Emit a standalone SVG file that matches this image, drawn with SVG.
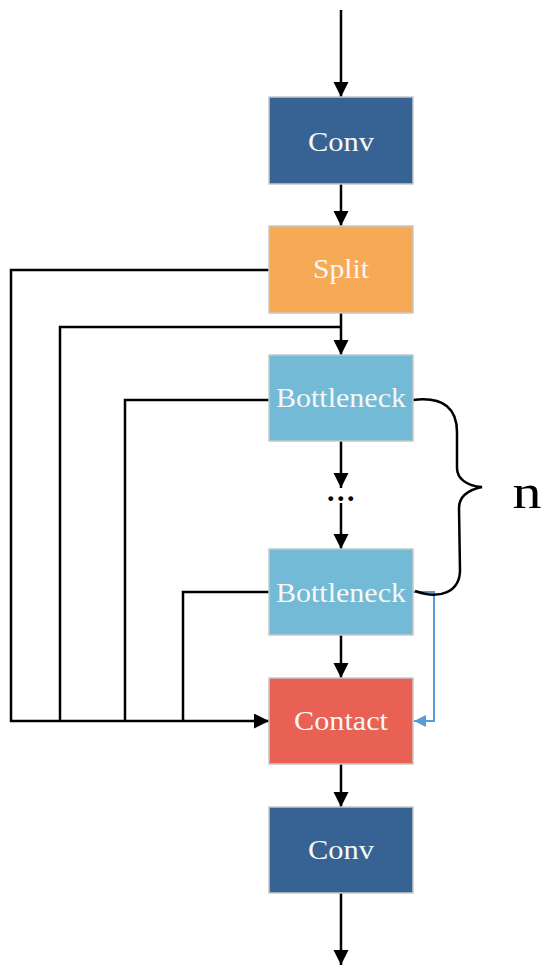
<svg xmlns="http://www.w3.org/2000/svg" width="550" height="973" viewBox="0 0 550 973">
<style>
.box{stroke:#C8C8C8;stroke-width:1.5}
.lbl{font-family:"Liberation Serif","DejaVu Serif",serif;font-size:28px;fill:#F7F7F7;text-anchor:middle}
.ln{fill:none;stroke:#000;stroke-width:2.5}
.bl{fill:none;stroke:#5B9BD5;stroke-width:2}
</style>
<defs>
<marker id="ah" markerUnits="userSpaceOnUse" markerWidth="16" markerHeight="16" refX="15" refY="7.5" orient="auto" viewBox="0 0 16 16">
<path d="M0,0 L15,7.5 L0,15 z" fill="#000"/>
</marker>
<marker id="ahb" markerUnits="userSpaceOnUse" markerWidth="13" markerHeight="13" refX="12" refY="6" orient="auto" viewBox="0 0 13 13">
<path d="M0,0 L12,6 L0,12 z" fill="#5B9BD5"/>
</marker>
</defs>
<g id="connectors">
<line class="ln" x1="341" y1="10" x2="341" y2="97" marker-end="url(#ah)"/>
<line class="ln" x1="341" y1="184" x2="341" y2="226" marker-end="url(#ah)"/>
<line class="ln" x1="341" y1="313" x2="341" y2="355" marker-end="url(#ah)"/>
<line class="ln" x1="341" y1="441" x2="341" y2="488" marker-end="url(#ah)"/>
<line class="ln" x1="341" y1="503" x2="341" y2="549" marker-end="url(#ah)"/>
<line class="ln" x1="341" y1="635" x2="341" y2="678" marker-end="url(#ah)"/>
<line class="ln" x1="341" y1="764" x2="341" y2="807" marker-end="url(#ah)"/>
<line class="ln" x1="341" y1="893" x2="341" y2="965" marker-end="url(#ah)"/>
<polyline class="ln" points="269,270 11,270 11,721 269,721" marker-end="url(#ah)"/>
<polyline class="ln" points="341,327 60,327 60,721"/>
<polyline class="ln" points="269,400 125,400 125,721"/>
<polyline class="ln" points="269,592 183,592 183,721"/>
<polyline class="bl" points="413,592 434,592 434,721 414,721" marker-end="url(#ahb)"/>
<path class="ln" d="M413,400 C445,396 457,410 457,432 L457,468 C457,478 466,486 482,487 C468,490 459,496 459,508 L460,570 C460,592 440,600 415,591"/>
<text x="342" y="501" font-family="Liberation Serif,serif" font-weight="bold" font-size="30" letter-spacing="2.5" text-anchor="middle" fill="#000">...</text>
</g>
<g id="conv1"><rect class="box" x="269" y="97" width="144" height="87" fill="#366393"/><text class="lbl" x="341" y="151" textLength="66" lengthAdjust="spacingAndGlyphs">Conv</text></g>
<g id="split"><rect class="box" x="269" y="226" width="144" height="87" fill="#F6AA56"/><text class="lbl" x="341" y="278" textLength="56" lengthAdjust="spacingAndGlyphs">Split</text></g>
<g id="bottleneck1"><rect class="box" x="269" y="355" width="144" height="86" fill="#72BAD5"/><text class="lbl" x="341" y="407" textLength="130" lengthAdjust="spacingAndGlyphs">Bottleneck</text></g>
<g id="bottleneck2"><rect class="box" x="269" y="549" width="144" height="86" fill="#72BAD5"/><text class="lbl" x="341" y="602" textLength="130" lengthAdjust="spacingAndGlyphs">Bottleneck</text></g>
<g id="contact"><rect class="box" x="269" y="678" width="144" height="86" fill="#E86154"/><text class="lbl" x="341" y="730" textLength="94" lengthAdjust="spacingAndGlyphs">Contact</text></g>
<g id="conv2"><rect class="box" x="269" y="807" width="144" height="86" fill="#366393"/><text class="lbl" x="341" y="859" textLength="66" lengthAdjust="spacingAndGlyphs">Conv</text></g>
<g id="n-label"><text x="527" y="508" font-family="Liberation Serif,serif" font-size="48" text-anchor="middle" fill="#000" textLength="29" lengthAdjust="spacingAndGlyphs">n</text></g>
</svg>
